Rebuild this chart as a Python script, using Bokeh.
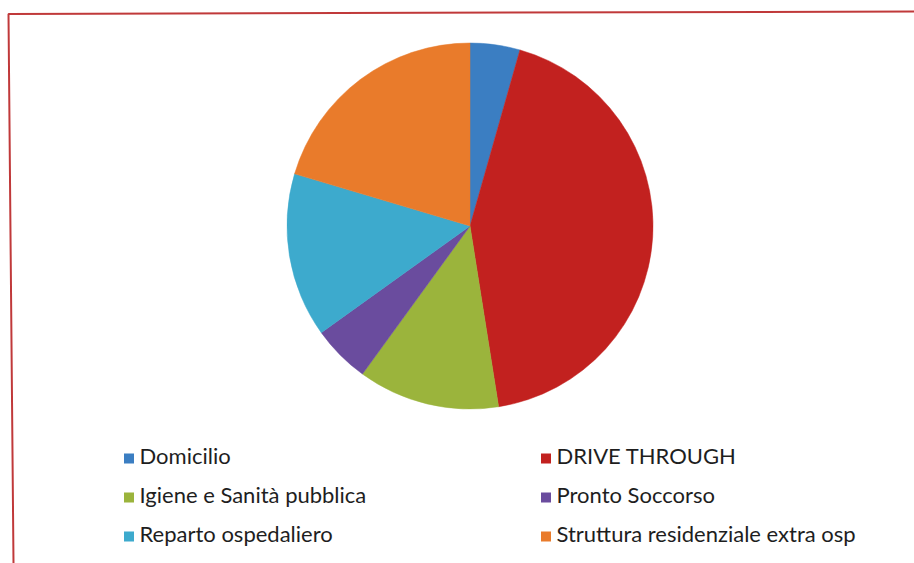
import math
from bokeh.plotting import figure
from bokeh.models import Range1d, ColumnDataSource
from bokeh.core.properties import value
from bokeh.embed import file_html
from bokeh.resources import INLINE

# ---- data (percent of total) ----
categories = ["Domicilio", "DRIVE THROUGH", "Igiene e Sanità pubblica",
              "Pronto Soccorso", "Reparto ospedaliero", "Struttura residenziale extra osp"]
values = [4.4, 43.1, 12.5, 5.1, 14.5, 20.4]

# ---- styles ----
palette = ["#3b7ec2", "#c2211f", "#9bb43c", "#6a4c9e", "#3daacd", "#e97b2b"]

W, H = 914, 563
p = figure(width=W, height=H, x_range=Range1d(0, W), y_range=Range1d(0, H),
           output_backend="svg", toolbar_location=None, min_border=0,
           background_fill_color="white", border_fill_color="white")
p.axis.visible = False
p.grid.visible = False
p.outline_line_color = None

def fx(px):
    return px

def fy(py):
    return H - py

# frame border (scanned red rule)
p.line(x=[fx(13), fx(8.0), fx(914)], y=[fy(563), fy(13.5), fy(11)],
       line_color="#c0393a", line_width=2)

# pie
total = sum(values)
cx, cy, r = fx(469.5), fy(225.5), 183
starts, ends = [], []
acc = 0.0
for v in values:
    a0 = acc / total * 2 * math.pi
    acc += v
    a1 = acc / total * 2 * math.pi
    starts.append(math.pi / 2 - a0)
    ends.append(math.pi / 2 - a1)
src = ColumnDataSource(dict(start=starts, end=ends, color=palette, cat=categories))
p.wedge(x=cx, y=cy, radius=r, start_angle="start", end_angle="end",
        direction="clock", fill_color="color", line_color="color", line_width=0.5,
        source=src)

# legend (2 columns, filled row by row)
col_sq = [fx(128.5), fx(545.5)]
col_tx = [fx(139), fx(556)]
rows_y = [458, 497, 536]
sx, sy, tx, ty = [], [], [], []
for i, c in enumerate(categories):
    row, col = divmod(i, 2)
    sx.append(col_sq[col]); sy.append(fy(rows_y[row]))
    tx.append(col_tx[col]); ty.append(fy(rows_y[row] - 3))
lsrc = ColumnDataSource(dict(sx=sx, sy=sy, tx=tx, ty=ty, color=palette, cat=categories))
p.rect(x="sx", y="sy", width=10, height=10, fill_color="color", line_color=None, source=lsrc)
p.text(x="tx", y="ty", text="cat", text_baseline="middle", text_align="left",
       text_font=value("Lato"), text_font_size="22px", text_color="#1e1e1e", source=lsrc)

open("out.html", "w").write(file_html(p, INLINE))
